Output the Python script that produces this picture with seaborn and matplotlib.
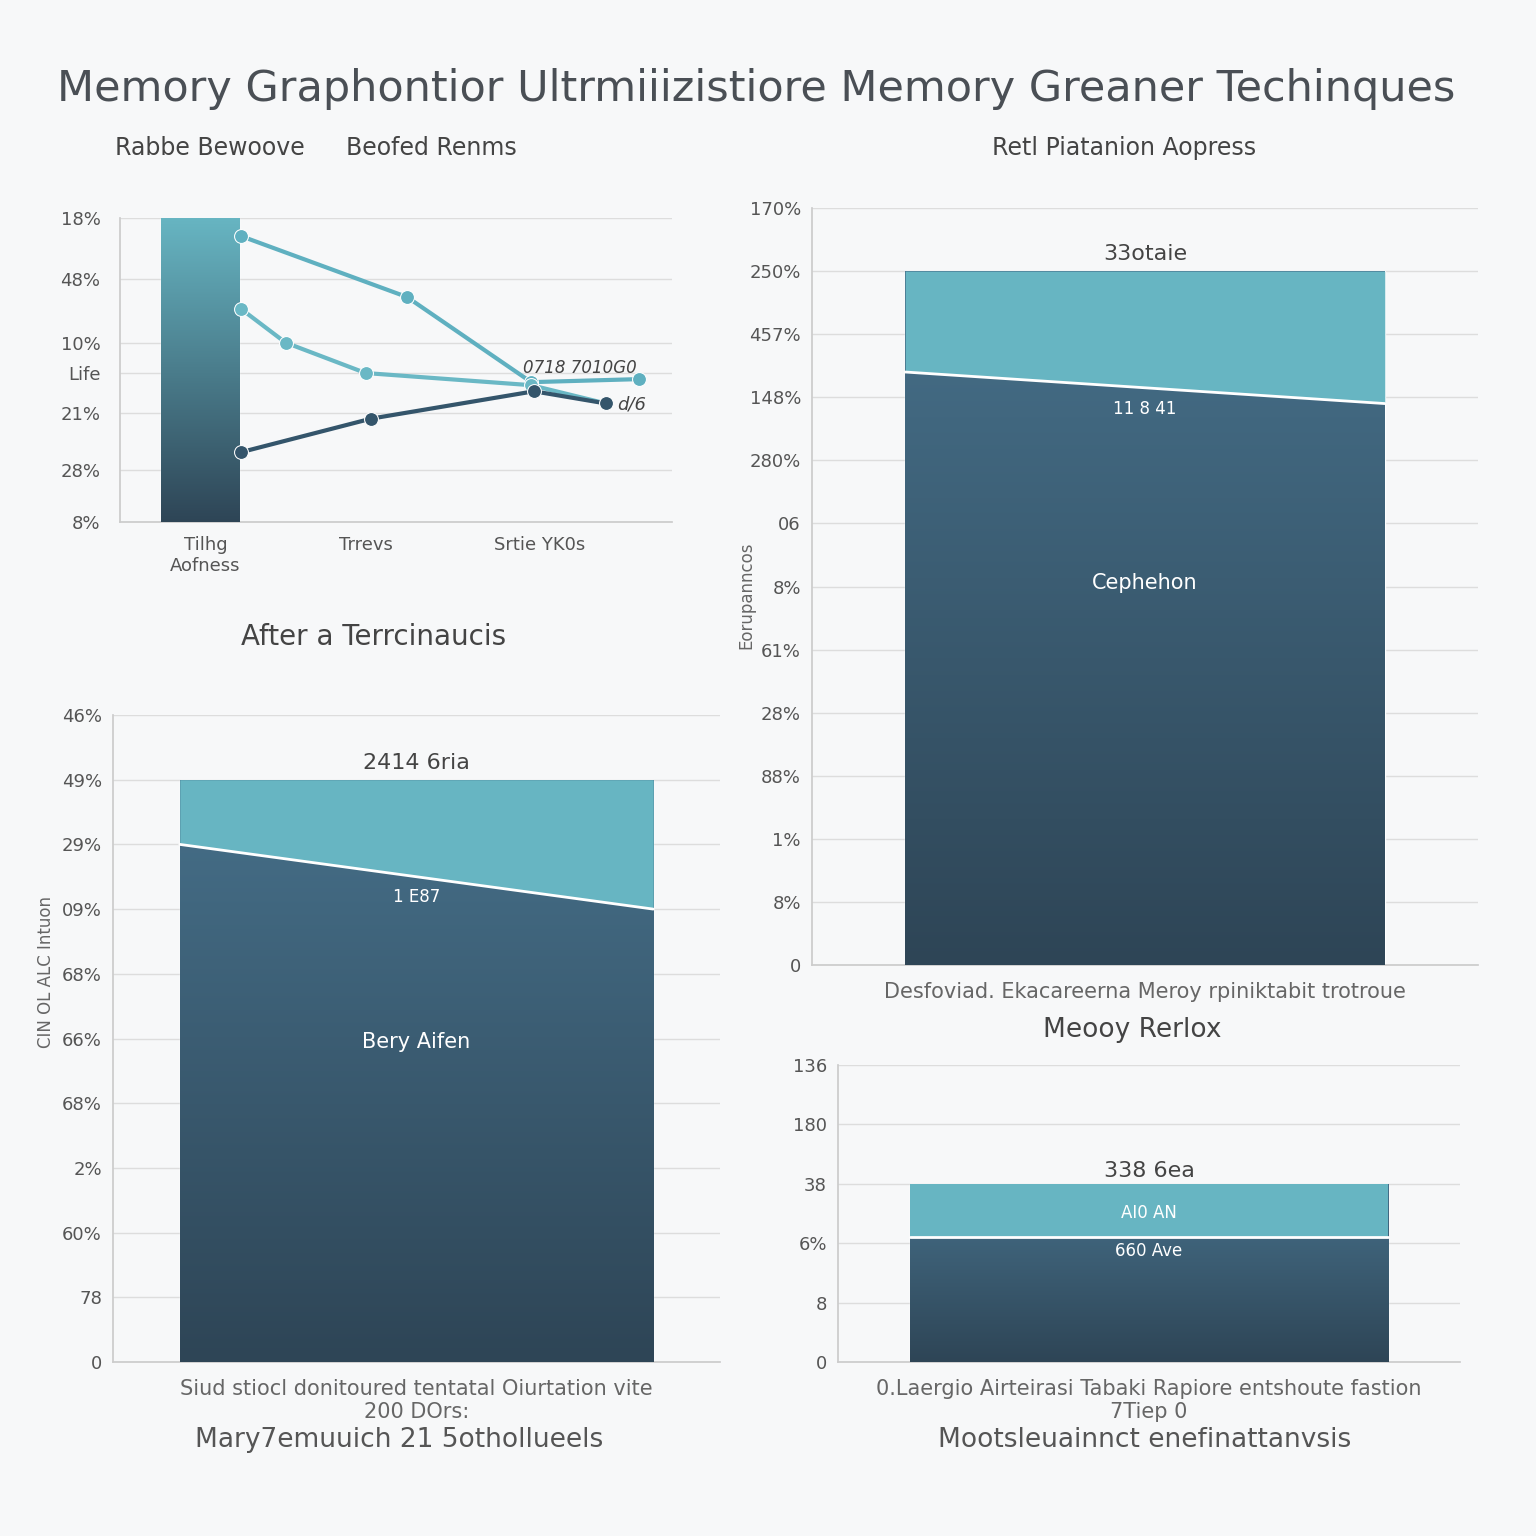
import numpy as np
import pandas as pd
import matplotlib
matplotlib.use('Agg')
import matplotlib.pyplot as plt
from matplotlib.colors import LinearSegmentedColormap
import seaborn as sns

sns.set_theme(style='white')
plt.rcParams['font.family'] = ['DejaVu Sans']

BG = '#f7f8f9'
TEAL = '#67b5c2'
DARK = '#2e4556'
MID = '#46708a'

title = 'Memory Graphontior Ultrmiiizistiore Memory Greaner Techinques'

# top-left panel: line chart with one gradient bar
tl_bar_x = [1.45]
tl_bar_h = [100]
tl_line1_x = [2.2, 5.2, 7.45, 9.4]
tl_line1_y = [94, 74, 46, 47]
tl_line2_x = [2.2, 3.0, 4.45, 7.45, 8.8]
tl_line2_y = [70, 59, 49, 45, 39]
tl_line3_x = [2.2, 4.55, 7.5, 8.8]
tl_line3_y = [23, 34, 43, 39]
tl_yticks = [100, 80, 59, 49, 36, 17, 0]
tl_ylabels = ['18%', '48%', '10%', 'Life', '21%', '28%', '8%']

# top-right panel
tr_bar_h = [11.0]
tr_split = [9.4, 8.9]
tr_ylabels = ['0', '8%', '1%', '88%', '28%', '61%', '8%', '06', '280%', '148%', '457%', '250%', '170%']

# bottom-left panel
bl_bar_h = [9.0]
bl_split = [8.0, 7.0]
bl_ylabels = ['0', '78', '60%', '2%', '68%', '66%', '68%', '09%', '29%', '49%', '46%']

# bottom-right panel
br_bar_h = [3.0]
br_split = [2.1, 2.1]
br_ylabels = ['0', '8', '6%', '38', '180', '136']

fig = plt.figure(figsize=(15.36, 15.36), dpi=100, facecolor=BG)
fig.text(0.492, 0.942, title, ha='center', va='center', fontsize=31, color='#4a4f55',
         family=['Liberation Sans Narrow', 'DejaVu Sans'])

def px(x0, y0, x1, y1):
    return [x0 / 1536, 1 - y1 / 1536, (x1 - x0) / 1536, (y1 - y0) / 1536]

def style(ax, labels, ticks, pad=14):
    ax.set_facecolor(BG)
    for s in ['top', 'right']:
        ax.spines[s].set_visible(False)
    ax.spines['bottom'].set_color('#cccccc')
    ax.spines['left'].set_color('#cccccc')
    ax.set_yticks(ticks)
    ax.set_yticklabels(labels, fontsize=13, color='#555555')
    ax.tick_params(axis='y', length=0, pad=pad)
    ax.grid(axis='y', color='#dddddd', lw=1)
    ax.set_axisbelow(True)

def gradient_bar(ax, patch, top_col, bot_col):
    x0, w = patch.get_x(), patch.get_width()
    h = patch.get_height()
    cmap = LinearSegmentedColormap.from_list('g', [bot_col, top_col])
    grad = np.linspace(0, 1, 256).reshape(-1, 1)
    im = ax.imshow(grad, cmap=cmap, origin='lower', aspect='auto',
                   extent=[x0, x0 + w, 0, h], zorder=3)
    im.set_clip_path(patch)
    patch.set_facecolor('none')

# ---- top-left
ax = fig.add_axes(px(120, 218, 672, 522))
df = pd.DataFrame({'x': tl_bar_x, 'h': tl_bar_h})
ax.bar(df['x'], df['h'], width=1.42, color=DARK, zorder=2)
gradient_bar(ax, ax.patches[0], TEAL, DARK)
sns.lineplot(x=tl_line1_x, y=tl_line1_y, ax=ax, color='#5fb0c0', lw=3, marker='o', markersize=10, zorder=4)
sns.lineplot(x=tl_line2_x, y=tl_line2_y, ax=ax, color='#6ab8c5', lw=3, marker='o', markersize=10, zorder=4)
sns.lineplot(x=tl_line3_x, y=tl_line3_y, ax=ax, color='#34556b', lw=3, marker='o', markersize=10, zorder=4)
ax.set_xlim(0, 10)
style(ax, tl_ylabels, tl_yticks)
ax.set_ylim(0, 100)
ax.set_xticks([1.55, 4.45, 7.6])
ax.set_xticklabels(['Tilhg\nAofness', 'Trrevs', 'Srtie YK0s'], fontsize=13, color='#555555')
ax.tick_params(axis='x', length=0, pad=10)
ax.text(7.3, 49, '0718 7010G0', fontsize=12, color='#444444', style='italic')
ax.text(9.0, 37, 'd/6', fontsize=13, color='#444444', style='italic')
fig.text(0.075, 0.899, 'Rabbe Bewoove', fontsize=17, color='#444444')
fig.text(0.225, 0.899, 'Beofed Renms', fontsize=17, color='#444444')
fig.text(0.243, 0.58, 'After a Terrcinaucis', fontsize=20, color='#444444', ha='center')

# ---- bar panels
def big_panel(rect, heights, split, labels, top_lbl, mid_lbl, low_lbl, xlab, width_frac, pad=14):
    ax = fig.add_axes(px(*rect))
    n = len(labels) - 1
    sns.barplot(x=['a'], y=heights, ax=ax, color=DARK, width=width_frac, zorder=2)
    p = ax.patches[0]
    gradient_bar(ax, p, MID, DARK)
    x0, w = p.get_x(), p.get_width()
    xs = np.array([x0, x0 + w])
    ax.fill_between(xs, split, [heights[0]] * 2, color=TEAL, zorder=4, lw=0)
    ax.plot(xs, split, color='white', lw=2, zorder=5)
    ax.set_xlim(-0.5, 0.5)
    style(ax, labels, list(range(n + 1)), pad)
    ax.set_ylim(0, n)
    ax.set_xticks([])
    ax.set_ylabel('')
    cx = x0 + w / 2
    ax.text(cx, heights[0] + 0.12 * n / 12, top_lbl, ha='center', va='bottom', fontsize=16, color='#444444', zorder=6)
    ax.text(cx, np.mean(split) - 0.2 * n / 12, mid_lbl, ha='center', va='top', fontsize=12, color='white', zorder=6)
    ax.text(cx, heights[0] * 0.55, low_lbl, ha='center', va='center', fontsize=15, color='white', zorder=6)
    ax.set_xlabel(xlab, fontsize=15, color='#666666', labelpad=12)
    return ax

big_panel((812, 208, 1478, 965), tr_bar_h, tr_split, tr_ylabels, '33otaie', '11 8 41', 'Cephehon',
          'Desfoviad. Ekacareerna Meroy rpiniktabit trotroue', 0.72, pad=8)
fig.text(0.732, 0.899, 'Retl Piatanion Aopress', fontsize=17, color='#444444', ha='center')
fig.text(0.480, 0.58, 'Eorupanncos', fontsize=12, color='#666666', rotation=90)

big_panel((113, 715, 720, 1362), bl_bar_h, bl_split, bl_ylabels, '2414 6ria', '1 E87', 'Bery Aifen',
          'Siud stiocl donitoured tentatal Oiurtation vite\n200 DOrs:', 0.78, pad=8)
fig.text(0.024, 0.32, 'CIN OL ALC Intuon', fontsize=12, color='#666666', rotation=90)
fig.text(0.26, 0.058, 'Mary7emuuich 21 5othollueels', fontsize=19, color='#555555', ha='center')

ax = big_panel((838, 1065, 1460, 1362), br_bar_h, br_split, br_ylabels, '338 6ea', '660 Ave', 'AI0 AN',
               '0.Laergio Airteirasi Tabaki Rapiore entshoute fastion\n7Tiep 0', 0.77, pad=8)
ax.texts[2].set_position((0, 2.5))
ax.texts[2].set_fontsize(12)
fig.text(0.737, 0.325, 'Meooy Rerlox', fontsize=19, color='#444444', ha='center')
fig.text(0.745, 0.058, 'Mootsleuainnct enefinattanvsis', fontsize=19, color='#555555', ha='center')

fig.savefig('out.png', dpi=100, facecolor=BG)
